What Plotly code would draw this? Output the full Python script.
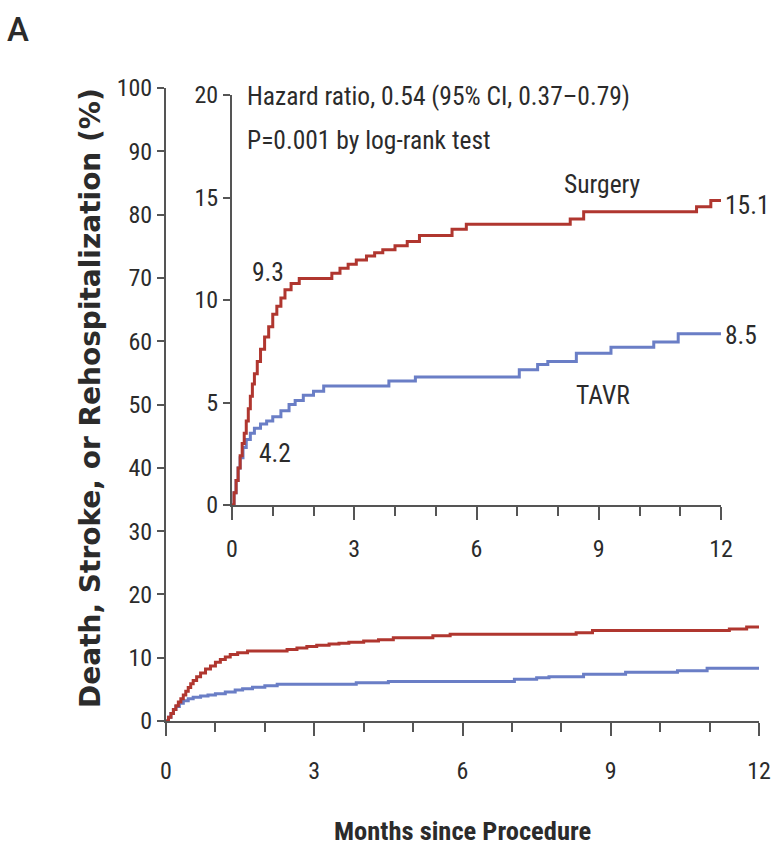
import plotly.graph_objects as go

# ---- data ----
surgery_months = [0, 0.05, 0.1, 0.15, 0.2, 0.25, 0.3, 0.35, 0.4, 0.45, 0.5, 0.55, 0.62, 0.7, 0.8, 0.9,
                  1.0, 1.1, 1.2, 1.3, 1.45, 1.65, 2.45, 2.65, 2.85, 3.05, 3.3, 3.5, 3.7, 4.0, 4.3,
                  4.6, 5.4, 5.75, 8.3, 8.63, 11.4, 11.75, 12.0]
surgery_pct = [0, 0.6, 1.2, 1.8, 2.4, 3.0, 3.5, 4.1, 4.7, 5.3, 5.9, 6.4, 7.0, 7.6, 8.2, 8.7,
               9.3, 9.7, 10.1, 10.5, 10.8, 11.05, 11.3, 11.55, 11.75, 11.95, 12.15, 12.3, 12.45, 12.65, 12.85,
               13.15, 13.45, 13.7, 13.95, 14.3, 14.55, 14.85, 14.85]

tavr_months = [0, 0.05, 0.1, 0.15, 0.2, 0.27, 0.35, 0.45, 0.55, 0.7, 0.85, 1.0, 1.2, 1.4, 1.55, 1.75, 2.0, 2.25,
               3.85, 4.5, 7.05, 7.5, 7.75, 8.45, 9.3, 10.35, 10.95, 12.0]
tavr_pct = [0, 0.6, 1.2, 1.8, 2.3, 2.8, 3.2, 3.5, 3.75, 3.95, 4.1, 4.3, 4.6, 4.9, 5.1, 5.35, 5.55, 5.8,
            6.05, 6.25, 6.6, 6.85, 7.0, 7.4, 7.7, 7.95, 8.35, 8.35]

x_ticks = [0, 3, 6, 9, 12]
main_y_ticks = [0, 10, 20, 30, 40, 50, 60, 70, 80, 90, 100]
inset_y_ticks = [0, 5, 10, 15, 20]

surgery_label, tavr_label = "Surgery", "TAVR"
end_labels = {"Surgery": "15.1", "TAVR": "8.5"}
month1_labels = {"Surgery": "9.3", "TAVR": "4.2"}
hr_text = "Hazard ratio, 0.54 (95% CI, 0.37–0.79)"
p_text = "P=0.001 by log-rank test"

RED = "#b0362f"
BLUE = "#6a7ec6"
AXC = "#555555"
TXT = "#2b2b2b"
NARROW = "Liberation Sans Narrow, Roboto Condensed, Roboto, sans-serif"
TICKFONT = dict(family=NARROW, size=24, color=TXT)

W, H = 773, 854
def px(x): return x / W
def py(y): return 1 - y / H

fig = go.Figure()
for xa, ya in (("x", "y"), ("x2", "y2")):
    fig.add_trace(go.Scatter(x=tavr_months, y=tavr_pct, mode="lines", line=dict(color=BLUE, width=3, shape="hv"),
                             xaxis=xa, yaxis=ya, showlegend=False, name=tavr_label, cliponaxis=False))
    fig.add_trace(go.Scatter(x=surgery_months, y=surgery_pct, mode="lines", line=dict(color=RED, width=3, shape="hv"),
                             xaxis=xa, yaxis=ya, showlegend=False, name=surgery_label, cliponaxis=False))

axis_common = dict(showline=True, linecolor=AXC, linewidth=2, showgrid=False, zeroline=False, automargin=False,
                   ticks="outside", tickcolor=AXC, tickwidth=2, tickfont=TICKFONT)
minor = dict(dtick=1, tick0=0, ticks="outside", ticklen=9, tickcolor=AXC, tickwidth=2)

fig.update_layout(
    width=W, height=H, margin=dict(l=0, r=0, t=0, b=0),
    paper_bgcolor="white", plot_bgcolor="rgba(0,0,0,0)",
    xaxis=dict(domain=[px(166), px(759)], range=[0, 12], tickvals=x_ticks, ticklen=13, minor=minor,
               ticklabelstandoff=14, anchor="y", **axis_common),
    yaxis=dict(domain=[py(721), py(88)], range=[0, 100], tickvals=main_y_ticks, ticklen=7,
               anchor="x", **axis_common),
    xaxis2=dict(domain=[px(232), px(721)], range=[0, 12], tickvals=x_ticks, ticklen=13, minor=minor,
                ticklabelstandoff=8, anchor="y2", **axis_common),
    yaxis2=dict(domain=[py(505), py(95)], range=[0, 20], tickvals=inset_y_ticks, ticklen=7,
                anchor="x2", **axis_common),
)

ann_font = dict(family=NARROW, size=25.5, color=TXT)

def ann(text, x, y, font, xanchor="center", **kw):
    return dict(text=text, x=px(x), y=py(y), xref="paper", yref="paper", xanchor=xanchor, yanchor="middle",
                showarrow=False, font=font, **kw)

anns = [
    ann("A", 5, 29, dict(family="Roboto, sans-serif", size=33, color=TXT, weight=500), xanchor="left"),
    ann("<b>Death, Stroke, or Rehospitalization (%)</b>", 90, 398,
        dict(family="DejaVu Sans, sans-serif", size=28, color=TXT), textangle=-90),
    ann("Months since Procedure", 462, 830, dict(family=NARROW, size=26.5, color=TXT, weight="bold")),
    ann(hr_text, 245, 96, ann_font, xanchor="left"),
    ann(p_text, 245, 140, ann_font, xanchor="left"),
    ann(surgery_label, 602, 184, ann_font),
    ann(tavr_label, 603, 395, ann_font),
    ann(end_labels["Surgery"], 723, 205, ann_font, xanchor="left"),
    ann(end_labels["TAVR"], 723, 335, ann_font, xanchor="left"),
    ann(month1_labels["Surgery"], 268, 272, ann_font),
    ann(month1_labels["TAVR"], 275, 453, ann_font),
]
fig.update_layout(annotations=anns)
fig.write_html("out.html", config={"displayModeBar": False},
               post_script="document.body.style.margin='0';")
